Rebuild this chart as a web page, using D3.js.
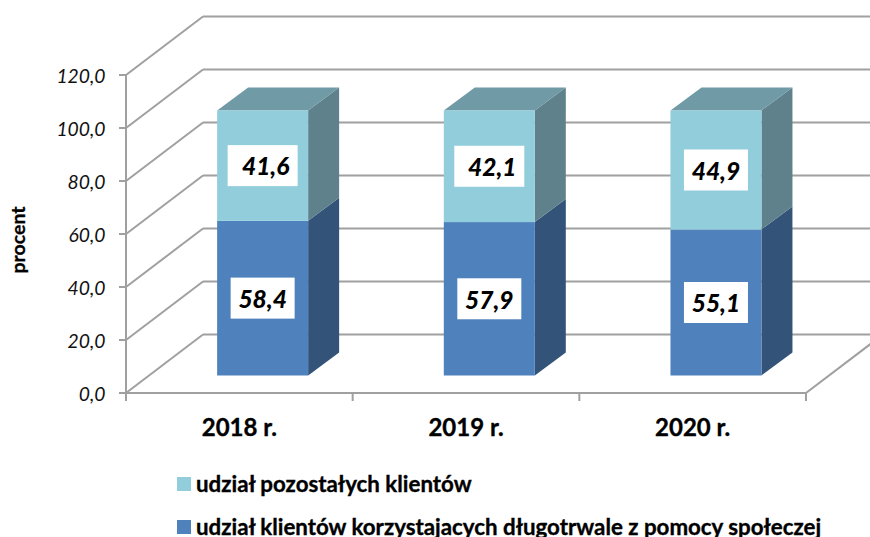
<!DOCTYPE html>
<html><head><meta charset="utf-8">
<script src="https://cdn.jsdelivr.net/npm/d3@7"></script>
<style>html,body{margin:0;padding:0;background:#fff}svg{display:block}text{font-family:Lato,"Open Sans",sans-serif}</style>
</head><body><svg id="c" width="870" height="537"></svg>
<script>
const categories = ["2018 r.","2019 r.","2020 r."];
const lowerValues = [58.4,57.9,55.1];
const upperValues = [41.6,42.1,44.9];
const lowerLabels = ["58,4","57,9","55,1"];
const upperLabels = ["41,6","42,1","44,9"];
const tickValues = [0,20,40,60,80,100,120];
const legendLabels = ["udział pozostałych klientów","udział klientów korzystajacych długotrwale z pomocy społeczej"];
const axisTitle = "procent";

const svg = d3.select("#c");
const grid="#a0a0a0";
const y = d3.scaleLinear().domain([0,120]).range([393,75]);
const x = d3.scaleBand().domain(categories).range([126,806]);
const depth = {dx:77,dy:-58.5}, barDepth={dx:31,dy:-23};
const barW=91, barLift=17.5, barShift=23.8;
const barX = c => x(c)+x.bandwidth()/2-barW/2+barShift-0.5;
const line=(a,b,c,d,w=2)=>svg.append("line").attr("x1",a).attr("y1",b).attr("x2",c).attr("y2",d).attr("stroke",grid).attr("stroke-width",w);

// walls and floor
tickValues.forEach(t=>{
  line(126,y(t),126+depth.dx,y(t)+depth.dy);
  line(126+depth.dx,y(t)+depth.dy,870,y(t)+depth.dy);
  line(119,y(t),126,y(t));
  svg.append("text").attr("x",105.5).attr("y",y(t)+1.5).attr("dy","0.36em").attr("text-anchor","end")
    .attr("font-size",19.3).attr("font-style","italic").attr("fill","#111")
    .text(d3.format(".1f")(t).replace(".",","));
});
line(126,y(0),806,y(0));
line(806,y(0),806+depth.dx,y(0)+depth.dy);
line(126,y(120),126,401);
[806].concat(categories.map(c=>x(c))).forEach(v=>line(v,y(0),v,401));

// bars
const poly=(pts,fill)=>svg.append("polygon").attr("points",pts.map(p=>p.join(",")).join(" ")).attr("fill",fill);
const stack=(c,from,to,front,side,top)=>{
  const l=barX(c), r=l+barW, y0=y(from)-barLift, y1=y(to)-barLift, {dx,dy}=barDepth;
  poly([[r,y0],[r+dx,y0+dy],[r+dx,y1+dy],[r,y1]],side);
  if(top) poly([[l,y1],[l+dx,y1+dy],[r+dx,y1+dy],[r,y1]],top);
  svg.append("rect").attr("x",l).attr("y",y1).attr("width",barW).attr("height",y0-y1).attr("fill",front);
};
categories.forEach((c,i)=>{
  stack(c,0,lowerValues[i],"#4f81bd","#335379");
  stack(c,lowerValues[i],lowerValues[i]+upperValues[i],"#92cddc","#5f818c","#709aa6");
});

// data labels: the two wider boxes carry extra padding on their left
const label=(c,mid,text,wide)=>{
  const cx=barX(c)+barW/2, yy=y(mid)-barLift, w=wide?70:64;
  svg.append("rect").attr("x",cx-w/2).attr("y",yy-20.5).attr("width",w).attr("height",41).attr("fill","#fff");
  svg.append("text").attr("x",cx+(wide?3:0)).attr("y",yy+1).attr("dy","0.36em").attr("text-anchor","middle")
    .attr("font-size",24.5).attr("font-weight",900).attr("font-style","italic").attr("fill","#000").text(text);
};
categories.forEach((c,i)=>{
  label(c,lowerValues[i]/2,lowerLabels[i],false);
  label(c,lowerValues[i]+upperValues[i]/2,upperLabels[i],i<2);
});

// category labels
categories.forEach(c=>svg.append("text").attr("x",x(c)+x.bandwidth()/2).attr("y",427).attr("dy","0.36em")
  .attr("text-anchor","middle").attr("font-size",24).attr("font-weight",700).attr("fill","#000").attr("stroke","#000").attr("stroke-width",0.35).text(c));

// axis title
svg.append("text").attr("transform","translate(18,240) rotate(-90)").attr("dy","0.36em").attr("text-anchor","middle")
  .attr("font-size",19.5).attr("font-weight",700).attr("fill","#000").attr("stroke","#000").attr("stroke-width",0.3).text(axisTitle);

// legend
[["#92cddc",484],["#4f81bd",527]].forEach(([f,yy],i)=>{
  svg.append("rect").attr("x",177).attr("y",yy-7).attr("width",14).attr("height",14).attr("fill",f);
  svg.append("text").attr("x",196).attr("y",yy).attr("dy","0.36em").attr("font-size",22.3).attr("font-weight",700).attr("fill","#000").attr("stroke","#000").attr("stroke-width",0.35).text(legendLabels[i]);
});
</script></body></html>
